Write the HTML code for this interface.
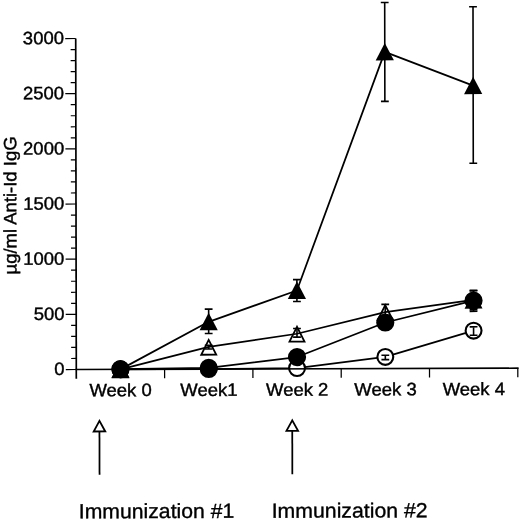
<!DOCTYPE html>
<html><head><meta charset="utf-8"><title>Anti-Id IgG</title>
<style>
html,body{margin:0;padding:0;background:#fff;}
svg{display:block;}
.t{font-family:"Liberation Sans",sans-serif;font-size:17.8px;fill:#000;stroke:#000;stroke-width:0.4px;}
.b{font-family:"Liberation Sans",sans-serif;font-size:20.4px;fill:#000;stroke:#000;stroke-width:0.35px;}
</style></head><body>
<svg width="520" height="520" viewBox="0 0 520 520">
<rect width="520" height="520" fill="#fff"/>
<g transform="matrix(1,-0.00294,0.0018,1,-0.6651,0.2243)">
<path d="M76.3,38.5V378.8" stroke="#000" stroke-width="1.7" fill="none"/>
<path d="M65.8,369.50H76.3M71.2,358.47H76.3M71.2,347.43H76.3M71.2,336.40H76.3M71.2,325.37H76.3M65.8,314.33H76.3M71.2,303.30H76.3M71.2,292.27H76.3M71.2,281.24H76.3M71.2,270.20H76.3M65.8,259.17H76.3M71.2,248.14H76.3M71.2,237.10H76.3M71.2,226.07H76.3M71.2,215.04H76.3M65.8,204.00H76.3M71.2,192.97H76.3M71.2,181.94H76.3M71.2,170.91H76.3M71.2,159.87H76.3M65.8,148.84H76.3M71.2,137.81H76.3M71.2,126.77H76.3M71.2,115.74H76.3M71.2,104.71H76.3M65.8,93.68H76.3M71.2,82.64H76.3M71.2,71.61H76.3M71.2,60.58H76.3M71.2,49.54H76.3M65.8,38.51H76.3" stroke="#000" stroke-width="1.2" fill="none"/>
<path d="M164.60,369.5V378.6M252.90,369.5V378.6M341.20,369.5V378.6M429.50,369.5V378.6M517.80,369.5V378.6" stroke="#000" stroke-width="1.25" fill="none"/>
<text transform="translate(64.6,375.00) scale(1.04,1)" text-anchor="end" class="t">0</text>
<text transform="translate(64.6,319.83) scale(1.04,1)" text-anchor="end" class="t">500</text>
<text transform="translate(64.6,264.67) scale(1.04,1)" text-anchor="end" class="t">1000</text>
<text transform="translate(64.6,209.50) scale(1.04,1)" text-anchor="end" class="t">1500</text>
<text transform="translate(64.6,154.34) scale(1.04,1)" text-anchor="end" class="t">2000</text>
<text transform="translate(64.6,99.18) scale(1.04,1)" text-anchor="end" class="t">2500</text>
<text transform="translate(64.6,44.01) scale(1.04,1)" text-anchor="end" class="t">3000</text>
<text transform="translate(120.55,396.3) scale(1.04,1)" text-anchor="middle" class="t">Week 0</text>
<text transform="translate(208.85,396.3) scale(1.04,1)" text-anchor="middle" class="t">Week1</text>
<text transform="translate(297.15,396.3) scale(1.04,1)" text-anchor="middle" class="t">Week 2</text>
<text transform="translate(385.45,396.3) scale(1.04,1)" text-anchor="middle" class="t">Week 3</text>
<text transform="translate(473.75,396.3) scale(1.04,1)" text-anchor="middle" class="t">Week 4</text>
<text transform="translate(16.6,205.3) rotate(-90) scale(1.04,1)" text-anchor="middle" class="t">µg/ml Anti-Id IgG</text>
<path d="M120.45,369.50 L208.75,369.50 L297.05,368.70 L385.35,357.80 L473.65,331.80" stroke="#000" stroke-width="1.75" fill="none" stroke-linejoin="round"/>
<path d="M120.45,369.30 L208.75,368.30 L297.05,357.70 L385.35,323.40 L473.65,301.80" stroke="#000" stroke-width="1.75" fill="none" stroke-linejoin="round"/>
<path d="M120.45,369.50 L208.75,322.20 L297.05,291.10 L385.35,52.80 L473.65,86.80" stroke="#000" stroke-width="1.75" fill="none" stroke-linejoin="round"/>
<circle cx="120.45" cy="369.50" r="7.95" fill="#fff" stroke="#000" stroke-width="2.1"/>
<circle cx="208.75" cy="369.50" r="7.95" fill="#fff" stroke="#000" stroke-width="2.1"/>
<circle cx="297.05" cy="368.70" r="7.95" fill="#fff" stroke="#000" stroke-width="2.1"/>
<circle cx="385.35" cy="357.80" r="7.95" fill="#fff" stroke="#000" stroke-width="2.1"/>
<path d="M385.35,356.10V360.50M381.45,356.10H389.25M381.45,360.50H389.25" stroke="#000" stroke-width="1.6" fill="none"/>
<circle cx="473.65" cy="331.80" r="7.95" fill="#fff" stroke="#000" stroke-width="2.1"/>
<path d="M473.65,328.00V336.40M469.75,328.00H477.55M469.75,336.40H477.55" stroke="#000" stroke-width="1.6" fill="none"/>
<polygon points="120.45,362.60 112.95,377.40 127.95,377.40" fill="#fff" stroke="#000" stroke-width="1.8" stroke-linejoin="miter"/>
<polygon points="208.75,340.30 201.25,355.10 216.25,355.10" fill="#fff" stroke="#000" stroke-width="1.8" stroke-linejoin="miter"/>
<path d="M208.75,345.60V349.40M204.85,345.60H212.65M204.85,349.40H212.65" stroke="#000" stroke-width="1.6" fill="none"/>
<polygon points="297.05,327.50 289.55,342.30 304.55,342.30" fill="#fff" stroke="#000" stroke-width="1.8" stroke-linejoin="miter"/>
<path d="M297.05,329.10V337.80M293.15,329.10H300.95M293.15,337.80H300.95" stroke="#000" stroke-width="1.6" fill="none"/>
<polygon points="385.35,306.10 377.85,320.90 392.85,320.90" fill="#fff" stroke="#000" stroke-width="1.8" stroke-linejoin="miter"/>
<path d="M385.35,305.30V320.50M381.45,305.30H389.25M381.45,320.50H389.25" stroke="#000" stroke-width="1.6" fill="none"/>
<polygon points="473.65,294.10 466.15,308.90 481.15,308.90" fill="#fff" stroke="#000" stroke-width="1.8" stroke-linejoin="miter"/>
<path d="M473.65,292.00V311.00M469.75,292.00H477.55M469.75,311.00H477.55" stroke="#000" stroke-width="1.6" fill="none"/>
<path d="M120.45,369.50 L208.75,347.20 L297.05,334.40 L385.35,313.00 L473.65,301.00" stroke="#000" stroke-width="1.75" fill="none" stroke-linejoin="round"/>
<polygon points="120.45,360.50 111.35,378.00 129.55,378.00" fill="#000"/>
<path d="M208.75,309.55V333.85M204.85,309.55H212.65M204.85,333.85H212.65" stroke="#000" stroke-width="1.6" fill="none"/>
<polygon points="208.75,313.20 199.65,330.70 217.85,330.70" fill="#000"/>
<path d="M297.05,280.30V302.20M293.15,280.30H300.95M293.15,302.20H300.95" stroke="#000" stroke-width="1.6" fill="none"/>
<polygon points="297.05,282.10 287.95,299.60 306.15,299.60" fill="#000"/>
<path d="M385.35,3.40V102.30M381.45,3.40H389.25M381.45,102.30H389.25" stroke="#000" stroke-width="1.6" fill="none"/>
<polygon points="385.35,43.80 376.25,61.30 394.45,61.30" fill="#000"/>
<path d="M473.65,7.90V164.40M469.75,7.90H477.55M469.75,164.40H477.55" stroke="#000" stroke-width="1.6" fill="none"/>
<polygon points="473.65,77.80 464.55,95.30 482.75,95.30" fill="#000"/>
<circle cx="120.45" cy="369.30" r="9.1" fill="#000"/>
<circle cx="208.75" cy="368.30" r="9.1" fill="#000"/>
<circle cx="297.05" cy="357.70" r="9.1" fill="#000"/>
<circle cx="385.35" cy="323.40" r="9.1" fill="#000"/>
<path d="M473.65,291.50V312.50M469.75,291.50H477.55M469.75,312.50H477.55" stroke="#000" stroke-width="1.6" fill="none"/>
<circle cx="473.65" cy="301.80" r="9.1" fill="#000"/>
<path d="M75.45,369.5H518.60" stroke="#000" stroke-width="1.7" fill="none"/>
<path d="M99.35,474.9V431" stroke="#000" stroke-width="1.75" fill="none"/>
<polygon points="99.35,421.0 93.55,431.55 105.15,431.55" fill="#fff" stroke="#000" stroke-width="1.8"/>
<path d="M292.15,474.9V431" stroke="#000" stroke-width="1.75" fill="none"/>
<polygon points="292.15,421.0 286.35,431.55 297.95,431.55" fill="#fff" stroke="#000" stroke-width="1.8"/>
<text transform="translate(78.5,518.3) scale(1.04,1)" class="b">Immunization #1</text>
<text transform="translate(271.4,518.3) scale(1.043,1)" class="b">Immunization #2</text>
</g>
</svg>
</body></html>
